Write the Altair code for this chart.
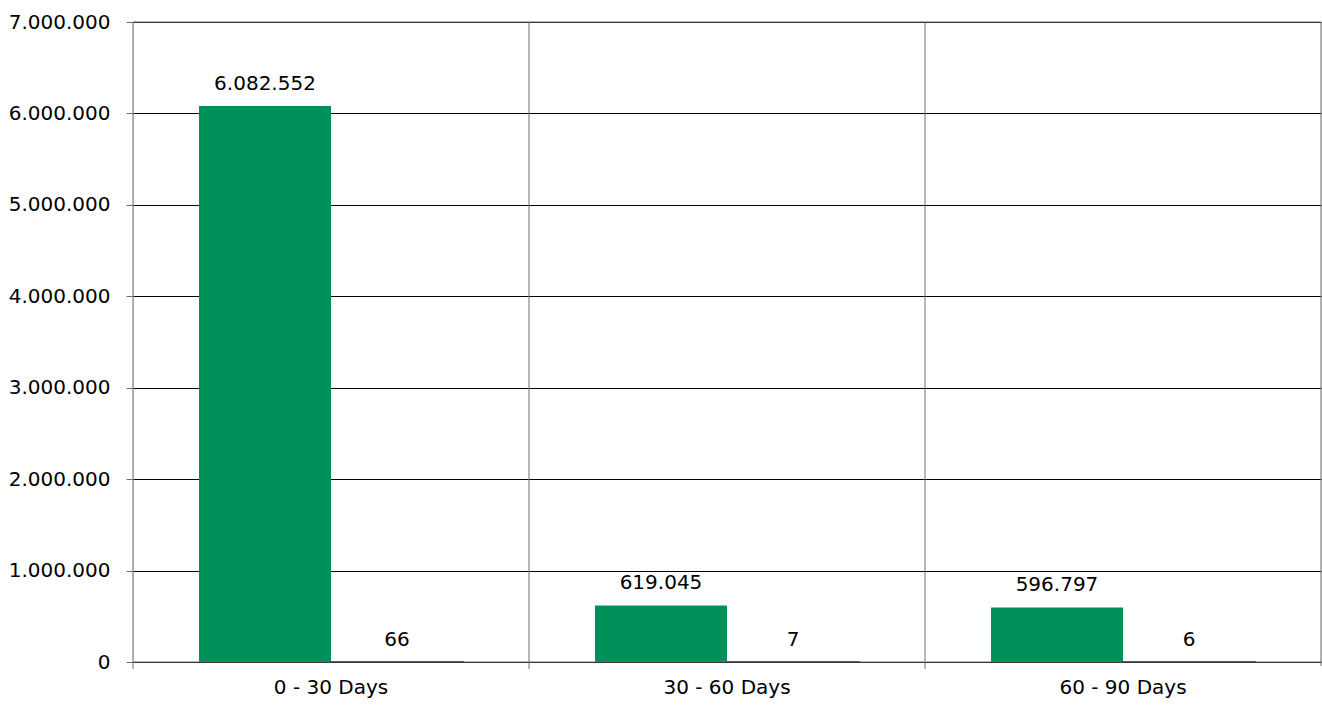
import altair as alt
import pandas as pd

categories = ["0 - 30 Days", "30 - 60 Days", "60 - 90 Days"]
series = ["Amount", "Count"]
amount = [6082552, 619045, 596797]
count = [66, 7, 6]
y_ticks = [0, 1000000, 2000000, 3000000, 4000000, 5000000, 6000000, 7000000]

FONT = "DejaVu Sans"
FS = 20
GREEN = "#00915A"
GRAY = "#6e6e6e"

rows = []
for c, a, n in zip(categories, amount, count):
    rows.append({"category": c, "series": series[0], "value": a})
    rows.append({"category": c, "series": series[1], "value": n})
df = pd.DataFrame(rows)
cat_df = pd.DataFrame({"category": categories})
last_df = pd.DataFrame({"category": [categories[-1]]})

W, H = 1188, 640

x_scale = alt.Scale(domain=categories, paddingInner=0, paddingOuter=0)
x_enc = alt.X(
    "category:N",
    sort=categories,
    scale=x_scale,
    axis=alt.Axis(
        title=None, labelAngle=0, ticks=False, domain=False, grid=False,
        labelFont=FONT, labelFontSize=FS, labelColor="black", labelPadding=15,
    ),
)
y_scale = alt.Scale(domain=[0, 7000000], nice=False)
y_enc = alt.Y(
    "value:Q",
    scale=y_scale,
    axis=alt.Axis(
        title=None, values=y_ticks, format=",d", grid=True, gridColor="black",
        gridWidth=1, domain=False, tickColor=GRAY, tickSize=7,
        labelFont=FONT, labelFontSize=FS, labelColor="black", labelPadding=16,
    ),
)
xoff = alt.XOffset(
    "series:N", sort=series,
    scale=alt.Scale(domain=series, paddingInner=0, paddingOuter=0.5),
)

# vertical separators (at the start of each category), extending below axis
vrules = alt.Chart(cat_df).mark_rule(color=GRAY, strokeWidth=1).encode(
    x=alt.X("category:N", sort=categories, scale=x_scale, bandPosition=0),
    y=alt.value(0),
    y2=alt.value(H + 7),
)
# right border
rborder = alt.Chart(last_df).mark_rule(color=GRAY, strokeWidth=1).encode(
    x=alt.X("category:N", sort=categories, scale=x_scale, bandPosition=1),
    y=alt.value(0),
    y2=alt.value(H + 4),
)
# top border and zero line
hb_df = pd.DataFrame({"value": [0, 7000000]})
hborders = alt.Chart(hb_df).mark_rule(color=GRAY, strokeWidth=1).encode(
    y=y_enc,
    x=alt.value(0),
    x2=alt.value(W),
)

bars_a = alt.Chart(df[df.series == series[0]]).mark_bar(color=GREEN).encode(
    x=x_enc, xOffset=xoff, y=y_enc,
)
bars_b = alt.Chart(df[df.series == series[1]]).mark_bar(
    color="black", stroke="black", strokeWidth=1.5
).encode(
    x=x_enc, xOffset=xoff, y=y_enc,
)
labels = alt.Chart(df).mark_text(
    font=FONT, fontSize=FS, color="black", baseline="alphabetic", dy=-16
).encode(
    x=x_enc, xOffset=xoff, y=y_enc,
    text=alt.Text("value:Q", format=",d"),
)

chart = alt.layer(bars_a, bars_b, vrules, rborder, hborders, labels).properties(
    width=W,
    height=H,
    autosize=alt.AutoSizeParams(type="none"),
    padding={"left": 133, "top": 22, "right": 1, "bottom": 44},
).configure_view(stroke=None).configure(
    locale={"number": {"decimal": ",", "thousands": ".", "grouping": [3], "currency": ["", " €"]}}
)

chart.save("out.html", embed_options={"renderer": "svg", "actions": False})
